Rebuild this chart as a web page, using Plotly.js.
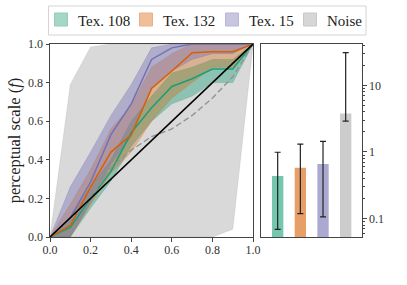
<!DOCTYPE html>
<html><head><meta charset="utf-8">
<script src="https://cdn.plot.ly/plotly-3.0.1.min.js"></script>
<style>body{margin:0;padding:0;background:#fff}#chart{width:407px;height:285px}</style>
</head><body><div id="chart"></div>
<script>
// ---- data ----
const stim = [0, 0.1, 0.2, 0.3, 0.4, 0.5, 0.6, 0.7, 0.8, 0.9, 1.0];
const tex108Mean  = [0, 0.05, 0.20, 0.34, 0.54, 0.67, 0.78, 0.82, 0.87, 0.87, 1.0];
const tex108Lo    = [0, 0.00, 0.15, 0.29, 0.47, 0.60, 0.69, 0.73, 0.80, 0.80, 1.0];
const tex108Hi    = [0, 0.10, 0.26, 0.40, 0.60, 0.73, 0.85, 0.88, 0.92, 0.92, 1.0];
const tex132Mean  = [0, 0.06, 0.26, 0.44, 0.53, 0.77, 0.86, 0.955, 0.96, 0.96, 1.0];
const tex132Lo    = [0, 0.00, 0.17, 0.33, 0.44, 0.60, 0.72, 0.80, 0.88, 0.88, 1.0];
const tex132Hi    = [0, 0.17, 0.35, 0.56, 0.68, 0.88, 0.95, 1.0, 1.0, 1.0, 1.0];
const tex15Mean   = [0, 0.10, 0.285, 0.53, 0.69, 0.92, 0.98, 1.0, 1.0, 1.0, 1.0];
const tex15Lo     = [0, 0.00, 0.18, 0.38, 0.52, 0.77, 0.86, 0.92, 0.95, 0.95, 1.0];
const tex15Hi     = [0, 0.26, 0.44, 0.63, 0.79, 0.98, 1.0, 1.0, 1.0, 1.0, 1.0];
const noiseMean   = [0, 0.09, 0.20, 0.36, 0.45, 0.52, 0.56, 0.63, 0.72, 0.83, 1.0];
const noiseLo     = [0, 0, 0, 0, 0, 0, 0, 0, 0, 0.04, 1.0];
const noiseHi     = [0, 0.79, 0.985, 1.0, 1.0, 1.0, 1.0, 1.0, 1.0, 1.0, 1.0];
const identity    = [0, 1];

const names      = ["Tex. 108", "Tex. 132", "Tex. 15", "Noise"];
const barValue   = [0.435, 0.58, 0.66, 3.78];
const barUpper   = [0.99, 1.31, 1.44, 31.0];
const barLower   = [0.069, 0.119, 0.106, 2.91];

// ---- styles ----
const W = 407, H = 285;
const lineCols = ["#1b9e77", "#d95f02", "#7570b3"];
const bandCols = ["rgba(27,158,119,0.40)", "rgba(217,95,2,0.32)", "rgba(117,112,179,0.42)"];
const barCols  = ["#76c5ad", "#e89f67", "#aca9d1", "#cccccc"];
const legCols  = ["#a4d8c5", "#f0bf99", "#c8c5e1", "#d6d6d6"];
const legEdge  = ["#93cdb8", "#eab08a", "#b9b5d9", "#c8c8c8"];
const legSwatchX = [54.5, 139.5, 225.5, 303.5];   // px, legend layout
const FONT = "Liberation Serif";

function band(lo, hi, col) {
  return {x: stim.concat(stim.slice().reverse()), y: lo.concat(hi.slice().reverse()),
    type: "scatter", mode: "lines", fill: "toself", fillcolor: col,
    line: {width: 0.6, color: col}, hoverinfo: "skip", showlegend: false, xaxis: "x", yaxis: "y"};
}
function line(y, col, w, dash, xs) {
  return {x: xs || stim, y: y, type: "scatter", mode: "lines",
    line: {color: col, width: w, dash: dash || "solid"}, showlegend: false, xaxis: "x", yaxis: "y"};
}

const traces = [
  band(noiseLo, noiseHi, "rgba(160,160,160,0.40)"),
  band(tex108Lo, tex108Hi, bandCols[0]),
  band(tex132Lo, tex132Hi, bandCols[1]),
  band(tex15Lo, tex15Hi, bandCols[2]),
  line(tex108Mean, lineCols[0], 1.5),
  line(tex132Mean, lineCols[1], 1.5),
  line(tex15Mean, lineCols[2], 1.5),
  line(noiseMean, "#939393", 1.4, "6px,3px"),
  line(identity, "#000000", 1.6, "solid", identity)
];

names.forEach((n, i) => traces.push({
  x: [i], y: [barValue[i]], type: "bar", width: 0.5, xaxis: "x2", yaxis: "y2",
  marker: {color: barCols[i]}, showlegend: false, name: n,
  error_y: {type: "data", symmetric: false,
    array: [barUpper[i] - barValue[i]], arrayminus: [barValue[i] - barLower[i]],
    color: "#222", thickness: 1.2, width: 3}
}));

// manual legend; pixel positions -> paper fractions of plot area (l=50, t=44, w=312, h=193)
const fx = p => (p - 50) / 312, fy = p => (237 - p) / 193;
const shapes = [{type: "rect", xref: "paper", yref: "paper", layer: "above",
  x0: fx(48.5), x1: fx(366), y0: fy(35), y1: fy(6),
  line: {color: "#d4d4d4", width: 1}, fillcolor: "#fff"}];
const annotations = [];
names.forEach((n, i) => {
  shapes.push({type: "rect", xref: "paper", yref: "paper", layer: "above",
    x0: fx(legSwatchX[i]), x1: fx(legSwatchX[i] + 13), y0: fy(26), y1: fy(13),
    fillcolor: legCols[i], line: {color: legEdge[i], width: 1}});
  annotations.push({xref: "paper", yref: "paper", x: fx(legSwatchX[i] + 21.5), y: fy(20.5),
    xanchor: "left", yanchor: "middle", showarrow: false, text: n,
    font: {family: FONT, size: 15, color: "#222"}});
});

const TF = {family: FONT, size: 12, color: "#333"};
const axCommon = {showline: true, mirror: true, linecolor: "#444", linewidth: 1,
  ticks: "outside", ticklen: 3.5, tickcolor: "#444", showgrid: false, zeroline: false};

const layout = {
  width: W, height: H,
  margin: {l: 50, r: 45, t: 44, b: 48},
  paper_bgcolor: "#fff", plot_bgcolor: "#fff",
  font: {family: FONT, color: "#222", size: 12},
  barmode: "overlay",
  showlegend: false,
  shapes: shapes, annotations: annotations,
  xaxis: Object.assign({}, axCommon, {domain: [0, 0.651], range: [0, 1], tickfont: TF,
    ticklabelstandoff: -2,
    tickvals: [0, 0.2, 0.4, 0.6, 0.8, 1.0], tickformat: ".1f", automargin: false}),
  yaxis: Object.assign({}, axCommon, {range: [0, 1], automargin: false, tickfont: TF,
    tickvals: [0, 0.2, 0.4, 0.6, 0.8, 1.0], tickformat: ".1f",
    title: {text: "perceptual scale (<i>f</i>)", font: {family: FONT, size: 16.5, color: "#222"}, standoff: 3}}),
  xaxis2: Object.assign({}, axCommon, {domain: [0.676, 1], range: [-0.74, 3.72],
    ticks: "", showticklabels: false, anchor: "y2", automargin: false}),
  yaxis2: Object.assign({}, axCommon, {type: "log", anchor: "x2", side: "right", automargin: false,
    tickfont: TF, range: [Math.log10(0.053), Math.log10(41.7)], dtick: 1,
    minor: {dtick: "D1", ticklen: 2, tickcolor: "#444", showgrid: false}})
};

Plotly.newPlot("chart", traces, layout, {staticPlot: true});
</script></body></html>
